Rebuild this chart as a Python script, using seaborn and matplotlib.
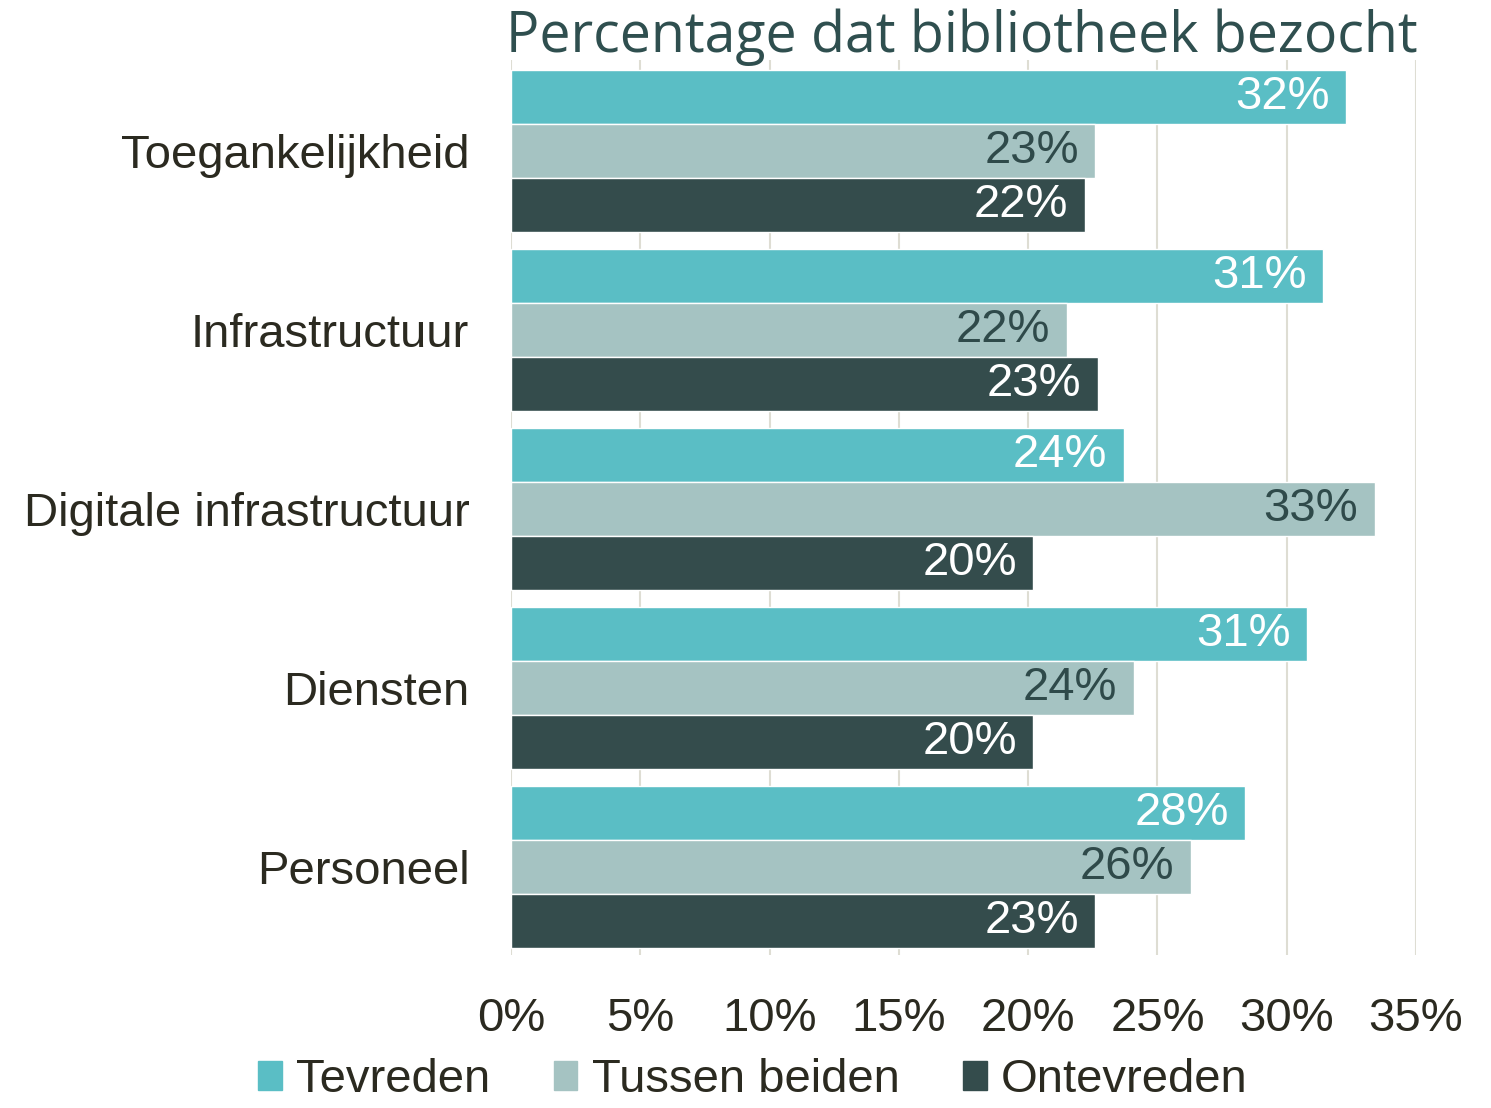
import pandas as pd
import matplotlib
matplotlib.use('Agg')
import matplotlib.pyplot as plt
import seaborn as sns
from matplotlib.ticker import FuncFormatter

# Data
categories = ['Toegankelijkheid', 'Infrastructuur', 'Digitale infrastructuur', 'Diensten', 'Personeel']
series = ['Tevreden', 'Tussen beiden', 'Ontevreden']
tevreden = [32.3, 31.4, 23.7, 30.8, 28.4]
tussen_beiden = [22.6, 21.5, 33.4, 24.1, 26.3]
ontevreden = [22.2, 22.7, 20.2, 20.2, 22.6]

colors = ['#5abec5', '#a5c3c2', '#344c4c']
label_colors = ['white', '#2f4a4a', 'white']
text_dark = '#2b2a20'

df = pd.DataFrame({
    'category': categories * 3,
    'series': [s for s in series for _ in categories],
    'value': tevreden + tussen_beiden + ontevreden,
})

sns.set_style('white')
plt.rcParams['font.family'] = ['Liberation Sans Narrow', 'Liberation Sans', 'DejaVu Sans']

fig = plt.figure(figsize=(14.91, 11.08), dpi=100)
ax = fig.add_axes([0.3427, 0.138, 0.607, 0.8078])

sns.barplot(data=df, y='category', x='value', hue='series', order=categories,
            hue_order=series, palette=colors, saturation=1, width=0.905,
            orient='h', ax=ax, legend=False)

ax.set_xlim(0, 35)
ax.set_ylim(4.49, -0.508)
ax.set_xticks(range(0, 36, 5))
ax.xaxis.set_major_formatter(FuncFormatter(lambda x, p: f'{x:.0f}%'))
ax.grid(axis='x', color='#deddd3', linewidth=1.5)
ax.grid(axis='y', visible=False)
ax.set_axisbelow(True)
for s in ax.spines.values():
    s.set_visible(False)
ax.tick_params(axis='x', length=0, pad=30, labelsize=34, labelcolor=text_dark)
ax.tick_params(axis='y', length=0, pad=30, labelsize=34, labelcolor=text_dark)
ax.set_xlabel('')
ax.set_ylabel('')

# value labels inside bar ends
for container, lc in zip(ax.containers, label_colors):
    for bar in container:
        w = bar.get_width()
        yc = bar.get_y() + bar.get_height() / 2
        ax.annotate(f'{w:.0f}%', (w, yc), xytext=(-12, 0), textcoords='offset points',
                    ha='right', va='center', fontsize=34, color=lc)

fig.text(0.645, 0.966, 'Percentage dat bibliotheek bezocht', ha='center', va='center',
         fontsize=40, color='#2f4f4f', family=['Open Sans', 'DejaVu Sans'])

handles = [plt.Rectangle((0, 0), 1, 1, color=c) for c in colors]
fig.legend(handles, series, loc='center', bbox_to_anchor=(0.505, 0.025), ncol=3,
           frameon=False, fontsize=34, handlelength=0.5, handleheight=0.55,
           handletextpad=0.3, columnspacing=1.35, labelcolor=text_dark,
           borderpad=0)

fig.savefig('out.png', dpi=100)
